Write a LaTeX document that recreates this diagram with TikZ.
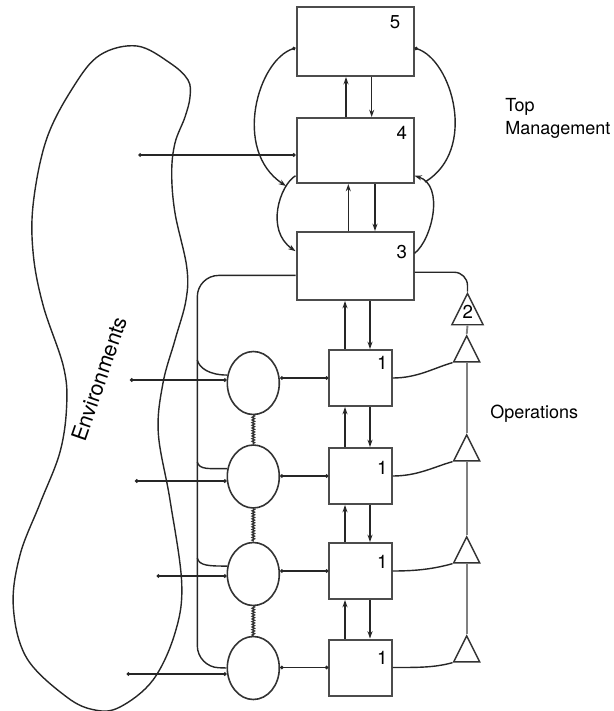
\documentclass[tikz,border=0pt]{standalone}
\usepackage{fontspec}
\setmainfont{TeX Gyre Heros}
\usetikzlibrary{arrows.meta,shapes.geometric,decorations.pathmorphing}

\begin{document}
\begin{tikzpicture}[x=0.75pt,y=0.75pt,yscale=-1,xscale=1,
	>={Stealth[length=5.5pt,width=3.8pt]},
	sysbox/.style={draw=black!70,line width=1.5pt,fill=white,inner sep=0pt},
	opunit/.style={draw=black!80,line width=1.2pt,ellipse,inner sep=0pt,minimum width=39pt,minimum height=47.25pt},
	tri/.style={draw=black!80,line width=1.1pt,isosceles triangle,isosceles triangle stretches,shape border rotate=90,inner sep=0pt,minimum width=19.5pt,minimum height=19.5pt,anchor=apex},
	wire/.style={line width=1.05pt,black!85},
	dotends/.style={{Circle[length=2.6pt]}-{Circle[length=2.6pt]}},
	link/.style={line width=1pt,black!80,decorate,decoration={zigzag,amplitude=0.9pt,segment length=2pt}},
	digit/.style={inner sep=0.75pt,font=\fontsize{14}{16}\selectfont},
	caption/.style={inner sep=0.75pt,font=\fontsize{13.5}{17.25}\selectfont}
	]
	%uncomment if require: \path (0,711); %set diagram left start at 0, and has height of 711
	\useasboundingbox (0,0) rectangle (614,711);
	
	%Shape: Free Drawing [environment]
	\draw[wire] plot[smooth cycle,tension=0.6] coordinates {(100,55) (137,46) (170,63) (188,80) (190,97) (185,117) (175,143) (171.7,173) (175,213) (186.7,266.7) (186,300) (175,340) (163,383) (158.3,433) (170,500) (181.7,583) (175,633) (153,680) (120,707) (95,710) (66.7,697) (26.7,658) (13.3,606.5) (20,555) (40,503.5) (60,452) (66.7,404.8) (63.3,366) (43.3,306) (33.3,254.6) (33.3,203) (46.7,138.7) (73.3,87)};
	
	%Shape: Rectangle [systems 5, 4, 3]
	\node[sysbox,minimum width=87.75pt,minimum height=51.5pt] (b5) at (355,41.7) {};
	\node[sysbox,minimum width=87.75pt,minimum height=48.75pt] (b4) at (355,150.5) {};
	\node[sysbox,minimum width=87.75pt,minimum height=51pt] (b3) at (355,266) {};
	%Shape: Rectangle [systems 1]
	\foreach \i/\y in {1/378,2/476,3/571,4/667.5}
		\node[sysbox,minimum width=46.8pt,minimum height=42pt] (q\i) at (360.5,\y) {};
	%Shape: Ellipse [operations]
	\foreach \i/\y in {1/383,2/476.5,3/574,4/668}
		\node[opunit] (c\i) at (253.3,\y) {};
	%Shape: Triangle [system 2]
	\node[tri,minimum width=23.5pt,minimum height=23.5pt] (t0) at (467.5,291.5) {};
	\foreach \i/\y in {1/334,2/433,3/535,4/634}
		\node[tri] (t\i) at (466.7,\y) {};
	
	%Straight Lines [up and down the channel]
	\draw[wire,->] (b4.north -| 346,0) -- (b5.south -| 346,0);
	\draw[wire,->] (b5.south -| 371.7,0) -- (b4.north -| 371.7,0);
	\draw[wire,->] (b3.north -| 348.3,0) -- (b4.south -| 348.3,0);
	\draw[wire,->] (b4.south -| 375,0) -- (b3.north -| 375,0);
	\draw[wire,->] (q1.north -| 345,0) -- (b3.south -| 345,0);
	\draw[wire,->] (b3.south -| 370,0) -- (q1.north -| 370,0);
	\foreach \i/\j in {1/2,2/3,3/4} {
		\draw[wire,->] (q\j.north -| 345,0) -- (q\i.south -| 345,0);
		\draw[wire,->] (q\i.south -| 370,0) -- (q\j.north -| 370,0);
	}
	
	%Curve Lines [loops round 5, 4, 3]
	\coordinate (jl) at (286,186);
	\coordinate (jr) at (425,182);
	\draw[wire,{Circle[length=2.6pt]}->] (b5.186) .. controls (258,60) and (232,150) .. (jl);
	\draw[wire,->] (b4.203) .. controls (280,185) and (265,230) .. (b3.166);
	\draw[wire,{Circle[length=2.6pt]}-] (b5.354) .. controls (452,60) and (478,150) .. (jr);
	\draw[wire,->] (b3.12) .. controls (432,240) and (445,185) .. (b4.-23);
	
	%Straight Lines [from the environment]
	\coordinate (e0) at (138.3,155);
	\draw[wire,dotends] (e0) -- (e0 -| b4.west);
	\foreach \i/\x/\y in {1/130/380,2/135/481,3/156.7/576,4/126.7/674} {
		\coordinate (e\i) at (\x,\y);
		\draw[wire,dotends] (e\i) -- (e\i -| c\i.west);
		\draw[wire,dotends] (q\i.west -| c\i.east) -- (q\i.west);
	}
	\foreach \i/\j in {1/2,2/3,3/4}
		\draw[link] (c\i.south) -- (c\j.north);
	
	%Curve Lines [3 down to the operations]
	\draw[wire,rounded corners=16pt] (b3.189) -| (197.3,667) -- (c4.west);
	\foreach \i/\y in {1/360,2/462,3/558} {
		\coordinate (v\i) at (197.3,\y);
		\draw[wire] (v\i) .. controls +(2,8) and +(-18,0) .. (c\i.163);
	}
	
	%Curve Lines [3 across to 2 and the triangles]
	\draw[wire,rounded corners=10pt] (b3.-6) -| (t0.apex);
	\draw[line width=1.4pt,black!50] (t0.lower side) -- (t1.apex);
	\foreach \i/\j in {1/2,2/3,3/4}
		\draw[line width=1.4pt,black!50] (t\i.lower side) -- (t\j.apex);
	\foreach \i in {1,...,4}
		\draw[wire] (q\i.east) .. controls +(25,0) and +(-18,5) .. (t\i.left corner);
	
	% Text Node
	\node[digit] (n5) at (395,22) {5};
	\node[digit] (n4) at (401.7,133.3) {4};
	\node[digit] (n3) at (401.7,251.7) {3};
	\node[digit] (n2) at (467.7,312.3) {2};
	\foreach \i/\y in {1/363.3,2/468.3,3/561.7,4/658.3}
		\node[digit] (m\i) at (382.3,\y) {1};
	% Text Node
	\node[caption,anchor=north west,align=left] (topmg) at (504,97) {Top\\Management};
	% Text Node
	\node[caption,anchor=west] (ops) at (489,414) {Operations};
	% Text Node
	\node[rotate=71,inner sep=0.75pt,font=\fontsize{16}{18}\selectfont] (envs) at (99,379) {Environments};
\end{tikzpicture}
\end{document}
